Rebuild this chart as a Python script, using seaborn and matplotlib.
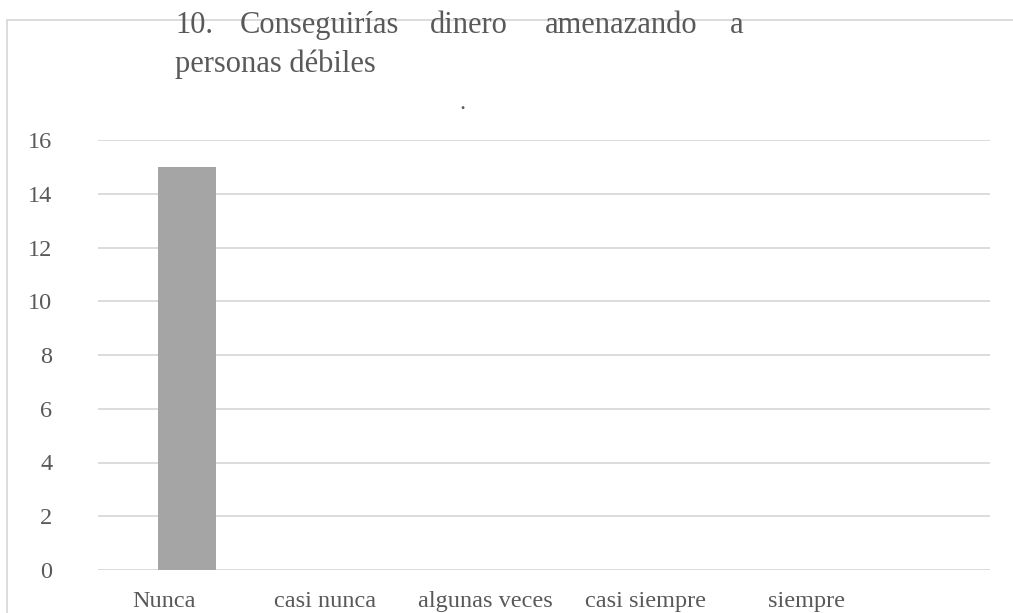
import matplotlib
matplotlib.use("Agg")
import matplotlib.pyplot as plt
import seaborn as sns
import pandas as pd
import numpy as np
from matplotlib.lines import Line2D

categories = ['Nunca', 'casi nunca', 'algunas veces', 'casi siempre', 'siempre']
values = [15, 0, 0, 0, 0]
yticks = [0, 2, 4, 6, 8, 10, 12, 14, 16]

df = pd.DataFrame({'cat': categories, 'n': values})

sns.set_style("white")
plt.rcParams['font.family'] = ['Liberation Serif', 'DejaVu Serif']

text_col = '#595959'
grid_col = '#D9D9D9'

W, H = 1013, 613
fig = plt.figure(figsize=(W / 100, H / 100), dpi=100)
ax = fig.add_axes([98 / W, 1 - 570 / H, (990 - 98) / W, (570 - 140) / H])

sns.barplot(data=df, x='cat', y='n', order=categories, color='#A5A5A5',
            width=0.325, saturation=1, linewidth=0, ax=ax, zorder=3)

ax.set_ylim(0, 16)
ax.set_xlim(-0.5, len(categories) - 0.5)
ax.set_yticks(yticks)
ax.yaxis.grid(True, color=grid_col, linewidth=1.3, zorder=0)
ax.set_axisbelow(True)
for s in ax.spines.values():
    s.set_visible(False)
ax.tick_params(axis='y', length=0, pad=33, labelsize=17.5, labelcolor=text_col)
# category labels sit a bit to the left of the bars, as in the original
ax.set_xticks(np.arange(len(categories)) * 0.9 - 0.13)
ax.set_xticklabels(categories)
ax.tick_params(axis='x', length=0, pad=15, labelsize=17.5, labelcolor=text_col)
ax.set_xlabel('')
ax.set_ylabel('')

# chart frame (cut by the image edge)
fig.add_artist(Line2D([7 / W, 1.1], [1 - 20 / H] * 2, color=grid_col, lw=1.3,
                      transform=fig.transFigure, zorder=0))
fig.add_artist(Line2D([7 / W] * 2, [1 - 20 / H, -0.1], color=grid_col, lw=1.3,
                      transform=fig.transFigure, zorder=0))

# justified title, word by word
title_words = ['10.', 'Conseguirías', 'dinero', 'amenazando', 'a']
title_x = [175, 240, 430, 545, 730]
for w, x in zip(title_words, title_x):
    fig.text(x / W, 1 - 33 / H, w, fontsize=22, color=text_col,
             va='baseline', ha='left')
fig.text(175 / W, 1 - 72 / H, 'personas débiles', fontsize=22, color=text_col,
         va='baseline', ha='left')
fig.text(462 / W, 1 - 109 / H, '.', fontsize=17.5, color=text_col,
         va='baseline', ha='center')

plt.savefig('out.png', dpi=100)
